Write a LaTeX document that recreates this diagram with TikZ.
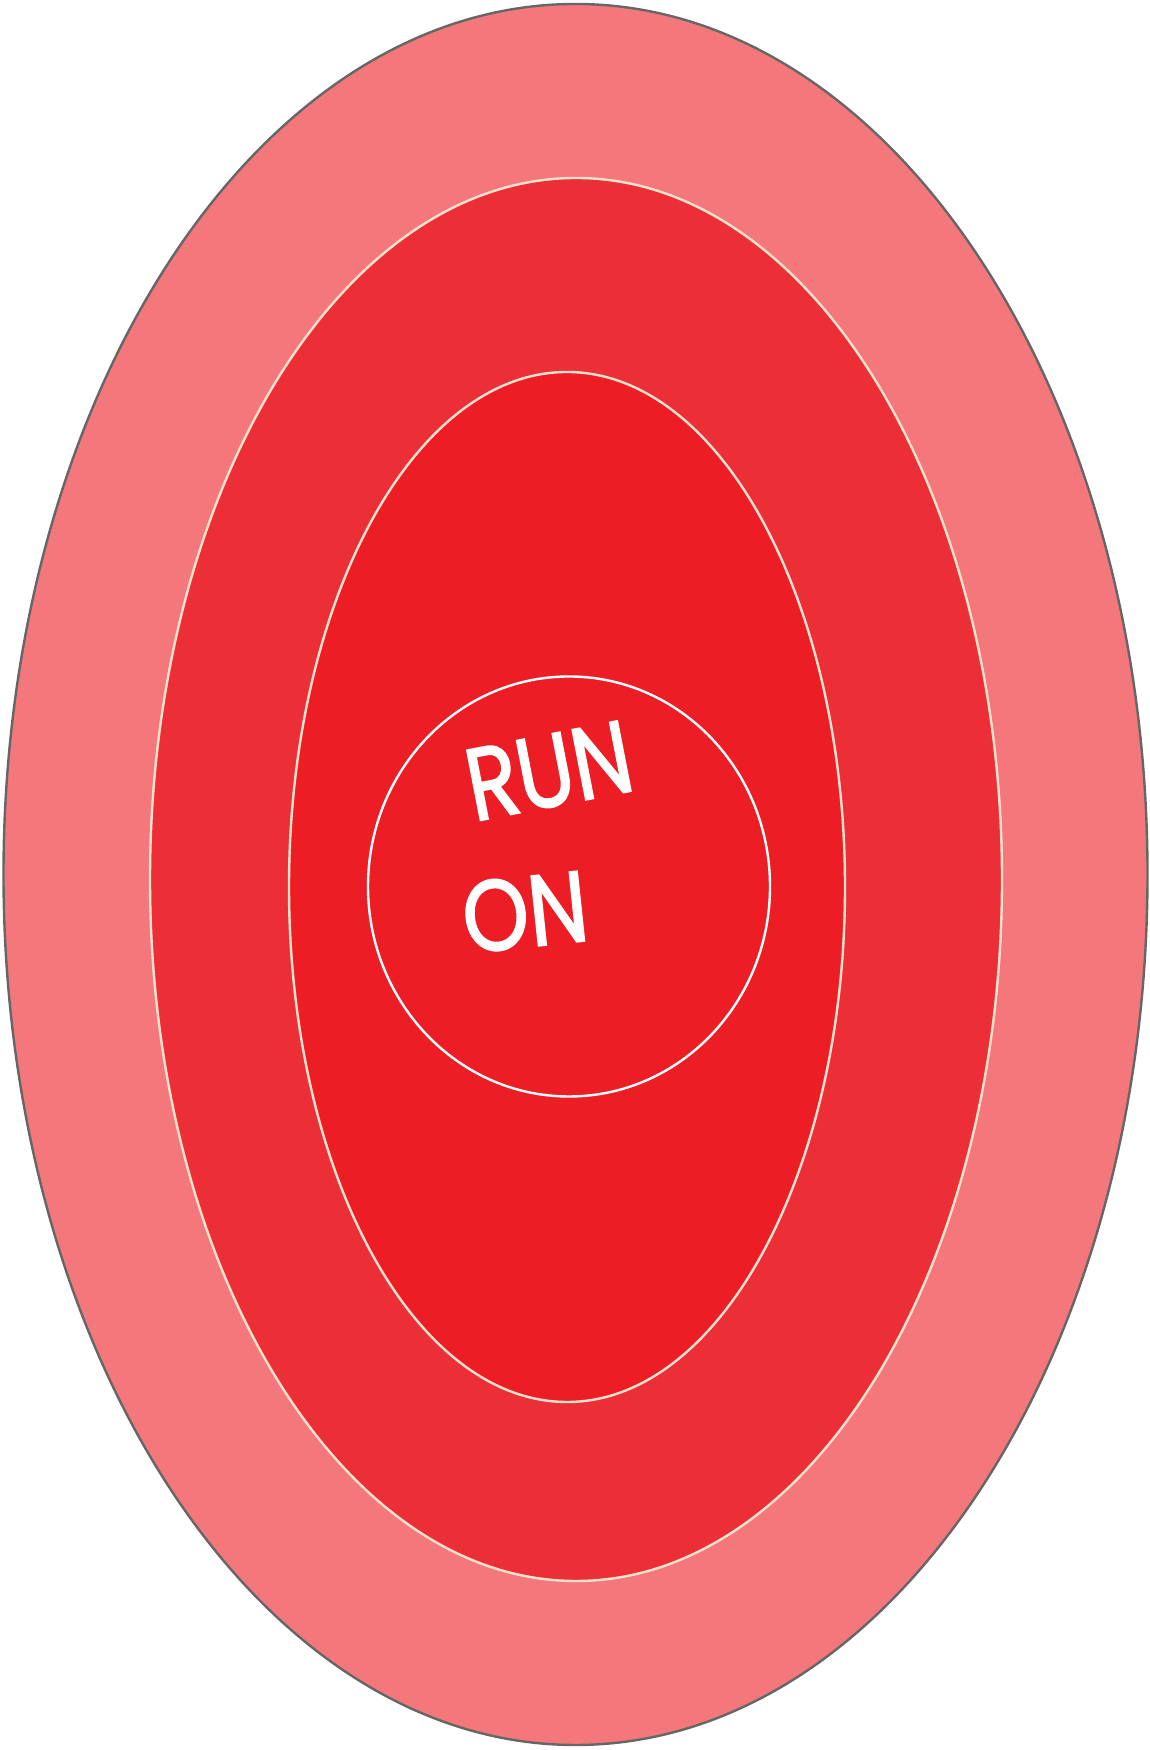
\documentclass[tikz,border=0pt]{standalone}
\usepackage{fontspec}
\usepackage{graphicx}
\setmainfont{Poppins}
\newfontfamily\handfont{Poppins}[FakeBold=2]
\definecolor{outerfill}{HTML}{F4787B}
\definecolor{midfill}{HTML}{EC2E36}
\definecolor{innerfill}{HTML}{ED1D25}
\definecolor{outergray}{HTML}{666666}
\definecolor{cream}{HTML}{FDE2CE}
\tikzset{
  ring/.style={line width=2.4pt},
  label/.style={text=white, inner sep=0pt}
}
\begin{document}
\begin{tikzpicture}[x=1pt,y=1pt]
\useasboundingbox (0,0) rectangle (1150,1750);
\draw[ring, fill=outerfill, draw=outergray, line width=2.4pt] (575.5,875.5) ellipse [x radius=572, y radius=870.5];
\draw[ring, fill=midfill, draw=cream] (576,870.5) ellipse [x radius=426, y radius=701.5];
\draw[ring, fill=innerfill, draw=cream] (567,863) ellipse [x radius=278, y radius=515];
\draw[ring, fill=innerfill, draw=white] (569,863.5) ellipse [x radius=201, y radius=210];
\node[label, rotate=11] (run) at (549,979) {\scalebox{0.82}[1]{\handfont\fontsize{102}{102}\selectfont RUN}};
\node[label, rotate=6] (on) at (525,838) {\scalebox{0.84}[1]{\handfont\fontsize{100}{100}\selectfont ON}};
\end{tikzpicture}
\end{document}
